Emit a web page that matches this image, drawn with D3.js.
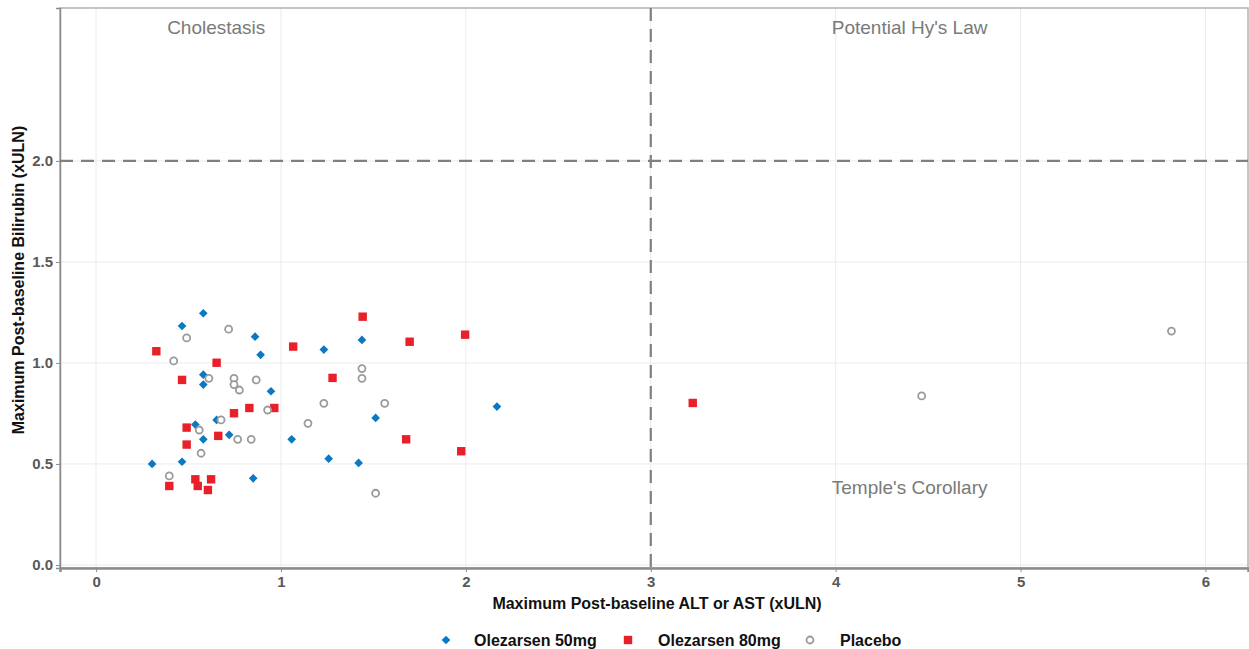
<!DOCTYPE html>
<html lang="en">
<meta charset="utf-8">
<head>
    <title>Liver safety scatter</title>
    <script src="https://d3js.org/d3.v7.min.js"></script>
    <style>
        body { margin: 0; background: #fff; }
        text { font-family: "Liberation Sans", Arial, sans-serif; }
    </style>
</head>
<body>
<div id="chart"></div>
<script>
    // data: [ALT/AST xULN, bilirubin xULN]
    const ole50 = [
        [0.58, 1.246], [0.465, 1.183], [0.86, 1.130], [0.89, 1.040], [0.58, 0.942],
        [0.58, 0.893], [0.946, 0.860], [0.537, 0.695], [0.652, 0.718], [0.58, 0.622],
        [0.72, 0.644], [1.058, 0.622], [0.303, 0.500], [0.465, 0.511], [0.85, 0.429],
        [1.438, 1.114], [1.232, 1.066], [1.512, 0.728], [1.258, 0.526], [1.42, 0.505],
        [2.168, 0.784]
    ];
    const ole80 = [
        [0.326, 1.058], [1.066, 1.081], [0.652, 1.001], [0.465, 0.916], [0.829, 0.777],
        [0.964, 0.777], [0.746, 0.751], [0.49, 0.680], [0.661, 0.639], [0.49, 0.596],
        [0.396, 0.391], [0.537, 0.424], [0.55, 0.391], [0.622, 0.424], [0.605, 0.371],
        [1.442, 1.229], [1.996, 1.140], [1.696, 1.105], [1.279, 0.926], [1.677, 0.622],
        [1.975, 0.563], [3.227, 0.802]
    ];
    const placebo = [
        [0.49, 1.124], [0.717, 1.167], [0.42, 1.010], [0.61, 0.924], [0.746, 0.924],
        [0.746, 0.893], [0.775, 0.866], [0.866, 0.916], [0.928, 0.767], [0.676, 0.718],
        [0.558, 0.668], [0.766, 0.622], [0.839, 0.622], [0.568, 0.553], [0.396, 0.441],
        [1.146, 0.701], [1.438, 0.972], [1.438, 0.924], [1.232, 0.800], [1.561, 0.800],
        [1.512, 0.355], [4.465, 0.837], [5.816, 1.158]
    ];
    const xTicks = [0, 1, 2, 3, 4, 5, 6];
    const yTicks = [0, 0.5, 1.0, 1.5, 2.0];
    const legendLabels = ["Olezarsen 50mg", "Olezarsen 80mg", "Placebo"];
    const regionLabels = [
        {text: "Cholestasis", x: 0.65, y: 2.63},
        {text: "Potential Hy's Law", x: 4.4, y: 2.63},
        {text: "Temple's Corollary", x: 4.4, y: 0.35}
    ];

    let W = 1249, H = 649;
    let margin = {top: 8, right: 1, bottom: 81, left: 60}
        , width = W - margin.left - margin.right
        , height = H - margin.top - margin.bottom;

    let xScale = d3.scaleLinear().domain([-0.195, 6.23]).range([0, width]);
    let yScale = d3.scaleLinear().domain([-0.015, 2.757]).range([height, 0]);

    let svg = d3.select("#chart").append("svg")
        .attr("width", W)
        .attr("height", H);
    let g = svg.append("g")
        .attr("transform", "translate(" + margin.left + "," + margin.top + ")");

    // grid
    g.selectAll(".vgrid").data(xTicks).enter().append("line")
        .attr("x1", d => xScale(d)).attr("x2", d => xScale(d))
        .attr("y1", 0).attr("y2", height)
        .attr("stroke", "#ebebeb").attr("stroke-width", 1);
    g.selectAll(".hgrid").data(yTicks).enter().append("line")
        .attr("y1", d => yScale(d)).attr("y2", d => yScale(d))
        .attr("x1", 0).attr("x2", width)
        .attr("stroke", "#ebebeb").attr("stroke-width", 1);

    // panel frame
    g.append("rect")
        .attr("width", width).attr("height", height)
        .attr("fill", "none").attr("stroke", "#b3b3b3").attr("stroke-width", 1.5);

    // axes
    let xAxis = d3.axisBottom(xScale).tickValues(xTicks).tickFormat(d3.format("d")).tickSize(4).tickPadding(4);
    let yAxis = d3.axisLeft(yScale).tickValues(yTicks).tickFormat(d3.format(".1f")).tickSize(4).tickPadding(3);

    let gx = g.append("g").attr("transform", "translate(0," + height + ")").call(xAxis);
    let gy = g.append("g").call(yAxis);
    [gx, gy].forEach(a => {
        a.select(".domain").attr("stroke", "#8c8c8c").attr("stroke-width", 2.5);
        a.selectAll(".tick line").attr("stroke", "#8c8c8c");
        a.selectAll(".tick text")
            .attr("fill", "#595959")
            .style("font-size", "15px")
            .style("font-weight", "bold");
    });
    gy.select(".domain").attr("stroke-width", 1.5);

    // reference lines
    g.append("line")
        .attr("x1", xScale(3)).attr("x2", xScale(3))
        .attr("y1", 0).attr("y2", height)
        .attr("stroke", "#7f7f7f").attr("stroke-width", 2.2)
        .attr("stroke-dasharray", "13,8");
    g.append("line")
        .attr("x1", 0).attr("x2", width)
        .attr("y1", yScale(2)).attr("y2", yScale(2))
        .attr("stroke", "#7f7f7f").attr("stroke-width", 2.2)
        .attr("stroke-dasharray", "13,8");

    // region labels
    g.selectAll(".region").data(regionLabels).enter().append("text")
        .attr("x", d => xScale(d.x))
        .attr("y", d => yScale(d.y))
        .attr("text-anchor", "middle")
        .attr("fill", "#7a7a7a")
        .style("font-size", "19px")
        .text(d => d.text);

    // points
    let diamond = d3.symbol().type(d3.symbolDiamond2).size(48);
    g.selectAll(".p50").data(ole50).enter().append("path")
        .attr("d", diamond)
        .attr("transform", d => "translate(" + xScale(d[0]) + "," + yScale(d[1]) + ")")
        .attr("fill", "#0b78c2");
    g.selectAll(".p80").data(ole80).enter().append("rect")
        .attr("x", d => xScale(d[0]) - 4.2)
        .attr("y", d => yScale(d[1]) - 4.2)
        .attr("width", 8.4).attr("height", 8.4)
        .attr("fill", "#e8202a");
    g.selectAll(".ppl").data(placebo).enter().append("circle")
        .attr("cx", d => xScale(d[0]))
        .attr("cy", d => yScale(d[1]))
        .attr("r", 3.5)
        .attr("fill", "#fff")
        .attr("stroke", "#9a9a9a")
        .attr("stroke-width", 1.8);

    // axis titles
    svg.append("text")
        .attr("x", margin.left + width / 2 + 3)
        .attr("y", 609)
        .attr("text-anchor", "middle")
        .attr("fill", "#111")
        .style("font-size", "16px")
        .style("font-weight", "bold")
        .text("Maximum Post-baseline ALT or AST (xULN)");
    svg.append("text")
        .attr("transform", "translate(24," + 280 + ") rotate(-90)")
        .attr("text-anchor", "middle")
        .attr("fill", "#111")
        .style("font-size", "16px")
        .style("font-weight", "bold")
        .text("Maximum Post-baseline Bilirubin (xULN)");

    // legend
    let legX = [446, 628, 810];
    let leg = svg.append("g").attr("transform", "translate(0,640)");
    leg.append("path").attr("d", diamond).attr("transform", "translate(" + legX[0] + ",0)").attr("fill", "#0b78c2");
    leg.append("rect").attr("x", legX[1] - 4.2).attr("y", -4.2).attr("width", 8.4).attr("height", 8.4).attr("fill", "#e8202a");
    leg.append("circle").attr("cx", legX[2]).attr("cy", 0).attr("r", 3.5).attr("fill", "#fff").attr("stroke", "#9a9a9a").attr("stroke-width", 1.8);
    leg.selectAll(".lt").data(legendLabels).enter().append("text")
        .attr("x", (d, i) => legX[i] + [28, 30, 30][i])
        .attr("y", 6)
        .attr("fill", "#111")
        .style("font-size", "16px")
        .style("font-weight", "bold")
        .text(d => d);
</script>
</body>
</html>
